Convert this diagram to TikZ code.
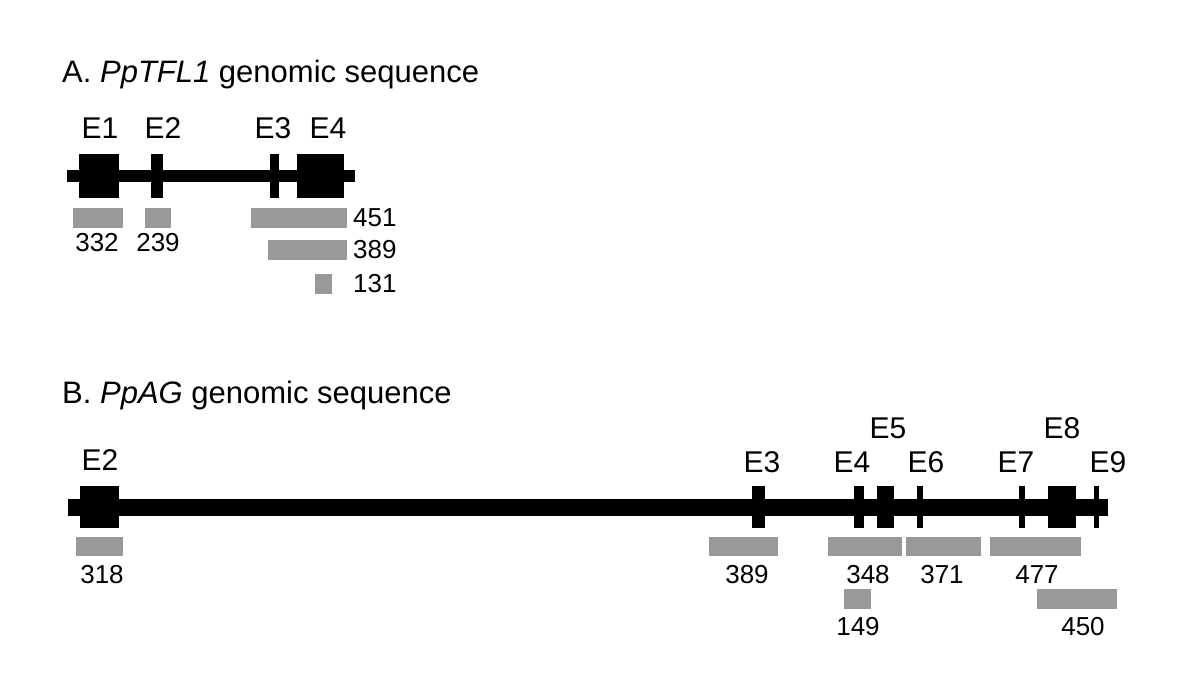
\documentclass[tikz,border=0pt]{standalone}
\usepackage{fontspec}
\setmainfont{Liberation Sans}
\definecolor{probegray}{gray}{0.6}

\begin{document}
\begin{tikzpicture}[x=1pt,y=-1pt,font=\fontsize{26}{30}\selectfont,
  exon/.style={fill=black,inner sep=0pt},
  probe/.style={fill=probegray,inner sep=0pt},
  lab/.style={inner sep=0pt},
  exlab/.style={inner sep=0pt,font=\fontsize{30}{34}\selectfont},
  title/.style={inner sep=0pt,anchor=base west,font=\fontsize{31}{36}\selectfont}]
\useasboundingbox (0,0) rectangle (1200,695);
% A. PpTFL1
\node[title] (tA) at (62,83) {A. \textit{PpTFL1} genomic sequence};
\coordinate (As) at (67,176);
\coordinate (Ae) at (355,176);
\draw[line width=12pt] (As) -- (Ae);
\node[exon,minimum width=40pt,minimum height=44pt] (AE1) at (99,176) {};
\node[exon,minimum width=12pt,minimum height=44pt] (AE2) at (157,176) {};
\node[exon,minimum width=9pt,minimum height=44pt] (AE3) at (274.5,176) {};
\node[exon,minimum width=47pt,minimum height=44pt] (AE4) at (320.5,176) {};
\node[exlab] (lAE1) at (100,128) {E1};
\node[exlab] (lAE2) at (163,128) {E2};
\node[exlab] (lAE3) at (273,128) {E3};
\node[exlab] (lAE4) at (328,128) {E4};
\node[probe,minimum width=50pt,minimum height=20pt] (A332) at (98,218) {};
\node[probe,minimum width=26pt,minimum height=20pt] (A239) at (158,218) {};
\node[probe,minimum width=96pt,minimum height=20pt] (A451) at (299,218) {};
\node[probe,minimum width=79pt,minimum height=20pt] (A389) at (307.5,250) {};
\node[probe,minimum width=17pt,minimum height=20pt] (A131) at (323.5,284) {};
\node[lab] (lA332) at (97,243) {332};
\node[lab] (lA239) at (158,243) {239};
\node[lab,anchor=west] (lA451) at (353,218) {451};
\node[lab,anchor=west] (lA389) at (353,250) {389};
\node[lab,anchor=west] (lA131) at (353,284) {131};
% B. PpAG
\node[title] (tB) at (62,403) {B. \textit{PpAG} genomic sequence};
\coordinate (Bs) at (68,507);
\coordinate (Be) at (1108,507);
\draw[line width=17pt] (Bs) -- (Be);
\node[exon,minimum width=39pt,minimum height=42pt] (BE2) at (99.5,507) {};
\node[exon,minimum width=13pt,minimum height=42pt] (BE3) at (758.5,507) {};
\node[exon,minimum width=10pt,minimum height=42pt] (BE4) at (859,507) {};
\node[exon,minimum width=17pt,minimum height=42pt] (BE5) at (885.5,507) {};
\node[exon,minimum width=6pt,minimum height=42pt] (BE6) at (920,507) {};
\node[exon,minimum width=6pt,minimum height=42pt] (BE7) at (1022,507) {};
\node[exon,minimum width=28pt,minimum height=42pt] (BE8) at (1062,507) {};
\node[exon,minimum width=5pt,minimum height=42pt] (BE9) at (1096.5,507) {};
\node[exlab] (lBE2) at (100,460) {E2};
\node[exlab] (lBE3) at (762,462) {E3};
\node[exlab] (lBE4) at (852,462) {E4};
\node[exlab] (lBE5) at (888,428) {E5};
\node[exlab] (lBE6) at (926,462) {E6};
\node[exlab] (lBE7) at (1016,462) {E7};
\node[exlab] (lBE8) at (1062,428) {E8};
\node[exlab] (lBE9) at (1108,462) {E9};
\node[probe,minimum width=47pt,minimum height=19pt] (B318) at (99.5,546.5) {};
\node[probe,minimum width=69pt,minimum height=19pt] (B389) at (743.5,546.5) {};
\node[probe,minimum width=74pt,minimum height=19pt] (B348) at (865,546.5) {};
\node[probe,minimum width=75pt,minimum height=19pt] (B371) at (943.5,546.5) {};
\node[probe,minimum width=91pt,minimum height=19pt] (B477) at (1035.5,546.5) {};
\node[probe,minimum width=27pt,minimum height=20pt] (B149) at (857.5,599) {};
\node[probe,minimum width=80pt,minimum height=20pt] (B450) at (1077,599) {};
\node[lab] (lB318) at (102,575) {318};
\node[lab] (lB389) at (747,575) {389};
\node[lab] (lB348) at (868,575) {348};
\node[lab] (lB371) at (942,575) {371};
\node[lab] (lB477) at (1037,575) {477};
\node[lab] (lB149) at (858,627) {149};
\node[lab] (lB450) at (1083,627) {450};
\end{tikzpicture}
\end{document}
